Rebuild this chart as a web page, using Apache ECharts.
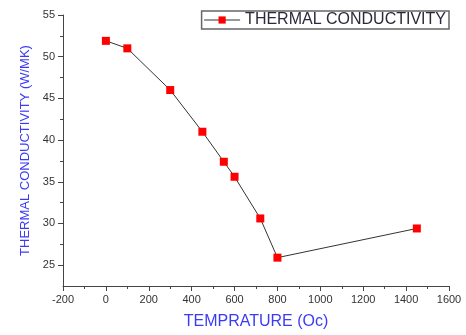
<!DOCTYPE html>
<html>
<head>
<meta charset="utf-8">
<script src="https://cdn.jsdelivr.net/npm/echarts@6/dist/echarts.min.js"></script>
<style>
  html, body { margin: 0; padding: 0; background: #fff; }
  #chart { width: 466px; height: 335px; }
</style>
</head>
<body>
<div id="chart"></div>
<script>
const temps = [0, 100, 300, 450, 550, 600, 720, 800, 1450]
const conductivity = [51.9, 51.0, 46.0, 41.0, 37.4, 35.6, 30.6, 25.9, 29.4]
const yMajorTicks = [25, 30, 35, 40, 45, 50, 55]
const yMinorTicks = [27.5, 32.5, 37.5, 42.5, 47.5, 52.5]

const axisColor = '#444'
const labelStyle = { color: '#333', fontSize: 11, fontFamily: 'Liberation Sans, Arial' }
const nameColor = '#3b3bf5'

const chart = echarts.init(document.getElementById('chart'))
chart.setOption({
  animation: false,
  grid: { left: 63, right: 17, top: 15, bottom: 47 },
  legend: {
    right: 17,
    top: 11,
    itemWidth: 36,
    itemHeight: 9,
    itemGap: 6,
    padding: [1, 3, 1, 2],
    borderColor: '#666',
    borderWidth: 1.5,
    lineStyle: { width: 1, color: '#333' },
    textStyle: { color: '#2a2a3a', fontSize: 16, fontFamily: 'Liberation Sans, Arial' },
    data: ['THERMAL CONDUCTIVITY']
  },
  xAxis: {
    type: 'value',
    min: -200,
    max: 1600,
    interval: 200,
    name: 'TEMPRATURE (Oc)',
    nameLocation: 'middle',
    nameGap: 28,
    nameTextStyle: { color: nameColor, fontSize: 16, fontFamily: 'Liberation Sans, Arial' },
    axisLine: { onZero: false, lineStyle: { color: axisColor, width: 1 } },
    axisTick: { length: 5, lineStyle: { color: axisColor } },
    minorTick: { show: true, splitNumber: 2, length: 3, lineStyle: { color: axisColor } },
    axisLabel: Object.assign({ formatter: v => String(v) }, labelStyle),
    splitLine: { show: false }
  },
  yAxis: [
    {
      type: 'value',
      min: 22.5,
      max: 55,
      name: 'THERMAL CONDUCTIVITY (W/MK)',
      nameLocation: 'middle',
      nameGap: 31,
      nameTextStyle: { color: nameColor, fontSize: 13, fontFamily: 'Liberation Sans, Arial' },
      axisLine: { show: true, onZero: false, lineStyle: { color: axisColor, width: 1 } },
      axisTick: { show: true, length: 5, customValues: yMajorTicks, lineStyle: { color: axisColor } },
      axisLabel: Object.assign({ customValues: yMajorTicks, margin: 8 }, labelStyle),
      splitLine: { show: false }
    },
    {
      type: 'value',
      position: 'left',
      min: 22.5,
      max: 55,
      axisLine: { show: false, onZero: false },
      axisTick: { show: true, length: 3, customValues: yMinorTicks, lineStyle: { color: axisColor } },
      axisLabel: { show: false },
      splitLine: { show: false }
    }
  ],
  series: [
    {
      name: 'THERMAL CONDUCTIVITY',
      type: 'line',
      yAxisIndex: 0,
      data: temps.map((t, i) => [t, conductivity[i]]),
      symbol: 'rect',
      symbolSize: 8,
      itemStyle: { color: '#ff0000' },
      lineStyle: { color: '#333', width: 1 }
    }
  ]
})
</script>
</body>
</html>
